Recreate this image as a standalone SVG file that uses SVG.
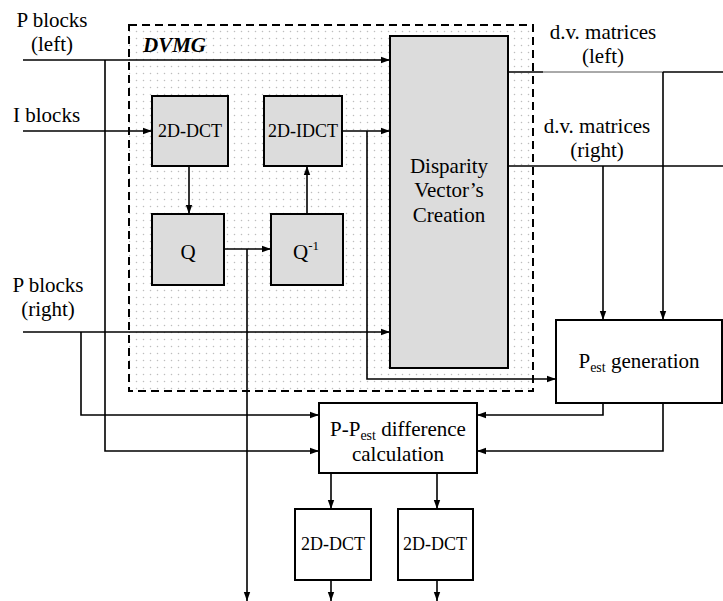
<svg xmlns="http://www.w3.org/2000/svg" width="723" height="601" viewBox="0 0 723 601">
<defs>
<pattern id="dots" width="7" height="7" patternUnits="userSpaceOnUse"><rect width="7" height="7" fill="#ffffff"/><circle cx="3.5" cy="3.5" r="0.75" fill="#bdbdbd"/></pattern>
<marker id="arr" markerUnits="userSpaceOnUse" markerWidth="9" markerHeight="8" refX="9" refY="4" orient="auto"><path d="M0,0.8 L9,4 L0,7.2 z" fill="#000"/></marker>
</defs>
<style>
text, tspan {font-family: "Liberation Serif", Tinos, "Noto Serif", "DejaVu Serif", Times, serif;}
.lbl{font-size:21px}
.sm{font-size:18px}
.c{text-anchor:middle}
.sub{font-size:14px}
.gbox{fill:#dcdcdc;stroke:#000;stroke-width:2}
.wbox{fill:#fff;stroke:#000;stroke-width:2}
.ln{fill:none;stroke:#000;stroke-width:1.6}
.ar{fill:none;stroke:#000;stroke-width:1.6;marker-end:url(#arr)}
</style>
<rect width="723" height="601" fill="#fff"/>
<g id="dvmg">
<rect x="129" y="25" width="404" height="366" fill="url(#dots)" stroke="#000" stroke-width="2" stroke-dasharray="8,5"/>
<text x="143" y="52" font-family="Liberation Serif, serif" font-size="21" font-weight="bold" font-style="italic">DVMG</text>
</g>
<g id="labels">
<text class="lbl c" x="52" y="27">P blocks</text>
<text class="lbl c" x="52" y="51">(left)</text>
<text class="lbl" x="13" y="122">I blocks</text>
<text class="lbl c" x="48" y="292">P blocks</text>
<text class="lbl c" x="48" y="316">(right)</text>
<text class="lbl c" x="603" y="39">d.v. matrices</text>
<text class="lbl c" x="603" y="63">(left)</text>
<text class="lbl c" x="597" y="133">d.v. matrices</text>
<text class="lbl c" x="597" y="157">(right)</text>
</g>
<g id="connectors">
<line class="ar" x1="23" y1="60" x2="390" y2="60"/>
<line class="ar" x1="23" y1="131" x2="152" y2="131"/>
<line class="ar" x1="23" y1="332" x2="390" y2="332"/>
<line class="ar" x1="189" y1="166" x2="189" y2="214"/>
<line class="ar" x1="307" y1="214" x2="307" y2="166"/>
<line class="ar" x1="224" y1="249" x2="271" y2="249"/>
<line class="ar" x1="247" y1="249" x2="247" y2="601"/>
<line class="ar" x1="342" y1="131" x2="390" y2="131"/>
<polyline class="ar" points="367,131 367,379 556,379"/>
<line class="ln" x1="508" y1="72" x2="543" y2="72"/>
<line x1="543" y1="72" x2="663" y2="72" stroke="#555" stroke-width="1"/>
<line class="ln" x1="663" y1="72" x2="723" y2="72"/>
<line class="ar" x1="663" y1="72" x2="663" y2="320"/>
<line class="ln" x1="508" y1="166" x2="723" y2="166"/>
<line class="ar" x1="603" y1="166" x2="603" y2="320"/>
<polyline class="ar" points="603,403 603,415 477,415"/>
<polyline class="ar" points="663,403 663,451 477,451"/>
<polyline class="ar" points="81,332 81,415 319,415"/>
<polyline class="ar" points="105,60 105,451 319,451"/>
<line class="ar" x1="331" y1="473" x2="331" y2="509"/>
<line class="ar" x1="437" y1="473" x2="437" y2="509"/>
<line class="ar" x1="331" y1="580" x2="331" y2="601"/>
<line class="ar" x1="437" y1="580" x2="437" y2="601"/>
</g>
<g id="dct1">
<rect class="gbox" x="152" y="96" width="76" height="70"/>
<text class="sm c" x="190" y="137">2D-DCT</text>
</g>
<g id="idct">
<rect class="gbox" x="264" y="96" width="78" height="70"/>
<text class="sm c" x="303" y="137">2D-IDCT</text>
</g>
<g id="q">
<rect class="gbox" x="152" y="214" width="72" height="71"/>
<text class="lbl c" x="188" y="259">Q</text>
</g>
<g id="qinv">
<rect class="gbox" x="271" y="214" width="72" height="71"/>
<text class="lbl" x="293" y="259">Q<tspan dy="-9" font-size="13">-1</tspan></text>
</g>
<g id="dvc">
<rect class="gbox" x="390" y="36" width="118" height="332"/>
<text class="lbl c" x="449" y="173">Disparity</text>
<text class="lbl c" x="449" y="197">Vector’s</text>
<text class="lbl c" x="449" y="222">Creation</text>
</g>
<g id="pest">
<rect class="wbox" x="556" y="320" width="166" height="83"/>
<text class="lbl c" x="639" y="368">P<tspan class="sub" dy="4">est</tspan><tspan dy="-4"> generation</tspan></text>
</g>
<g id="diff">
<rect class="wbox" x="319" y="403" width="158" height="70"/>
<text class="lbl c" x="398" y="436">P-P<tspan class="sub" dy="4">est</tspan><tspan dy="-4"> difference</tspan></text>
<text class="lbl c" x="398" y="461">calculation</text>
</g>
<g id="dct2">
<rect class="wbox" x="295" y="509" width="76" height="71"/>
<text class="sm c" x="333" y="550">2D-DCT</text>
</g>
<g id="dct3">
<rect class="wbox" x="398" y="509" width="75" height="71"/>
<text class="sm c" x="435" y="550">2D-DCT</text>
</g>
</svg>
